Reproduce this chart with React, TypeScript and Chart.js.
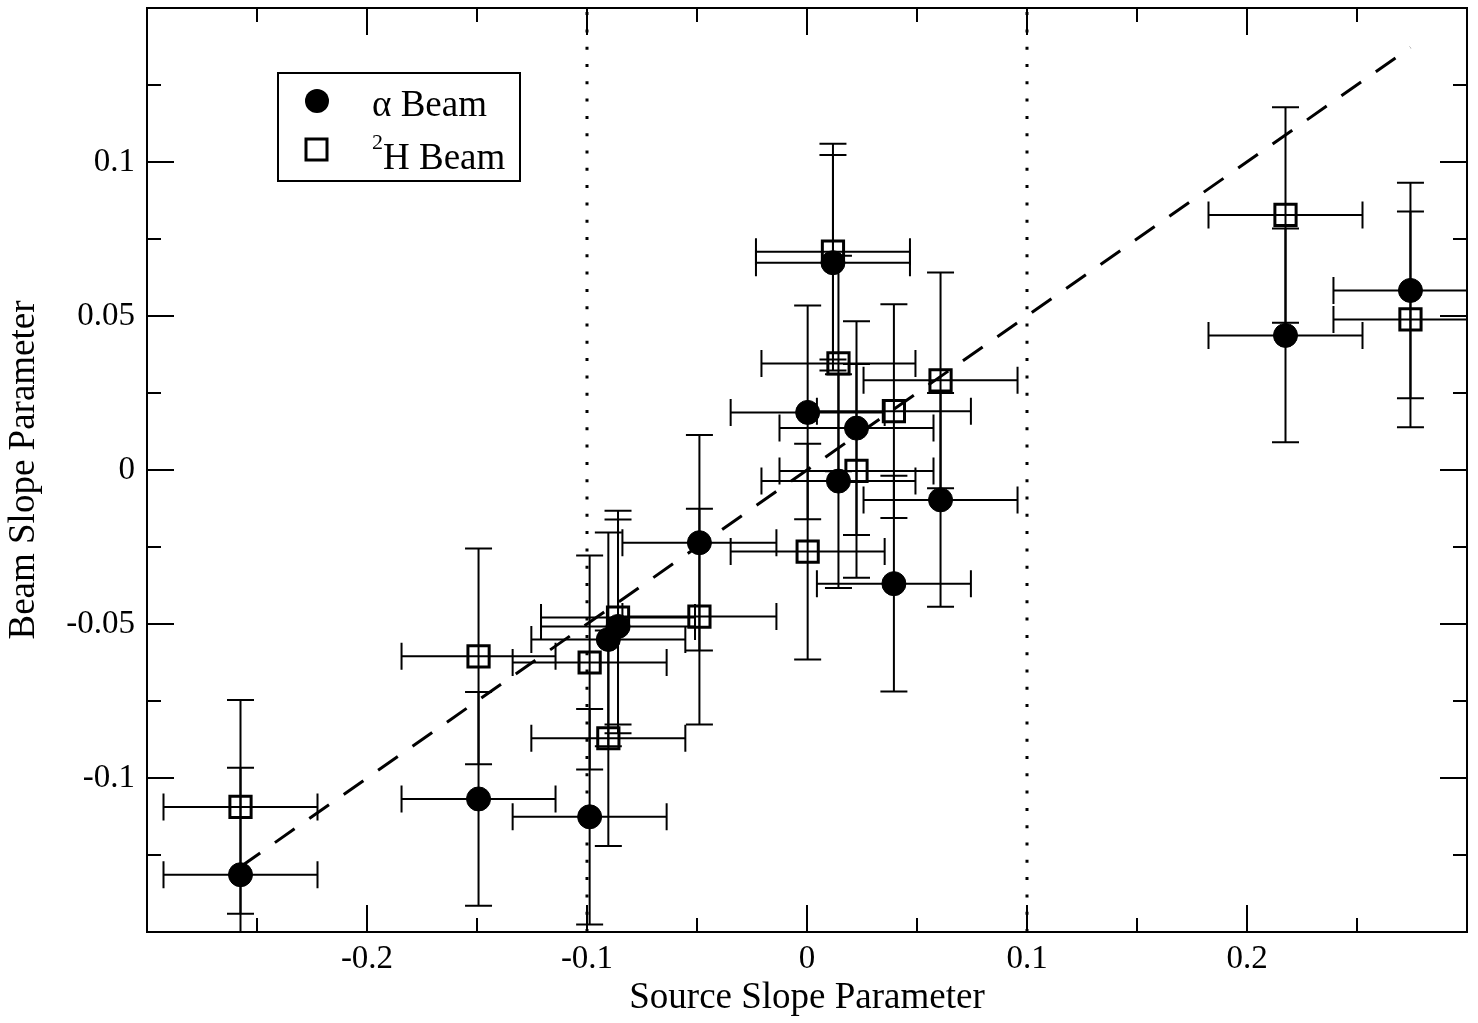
import React, { useEffect, useRef } from 'react';
import { Chart, registerables } from 'chart.js';

Chart.register(...registerables);

// ---- data ----
const sourceSlope = [-0.2575, -0.1493, -0.0988, -0.0903, -0.0859, -0.0489, 0.0003, 0.0118, 0.0143, 0.0225, 0.0395, 0.0607, 0.2175, 0.2743];
const alphaBeam = [-0.1314, -0.1068, -0.1126, -0.055, -0.0508, -0.0236, 0.0187, 0.0673, -0.0036, 0.0136, -0.0369, -0.0097, 0.0437, 0.0583];
const deuteronBeam = [-0.1094, -0.0605, -0.0625, -0.0871, -0.0479, -0.0476, -0.0265, 0.0709, 0.0346, -0.0003, 0.0191, 0.0291, 0.0828, 0.0489];
const sourceErr = [0.035, 0.035, 0.035, 0.035, 0.035, 0.035, 0.035, 0.035, 0.035, 0.035, 0.035, 0.035, 0.035, 0.035];
const alphaErr = [0.0347, 0.0347, 0.035, 0.0347, 0.0347, 0.035, 0.0347, 0.035, 0.0347, 0.0347, 0.035, 0.0347, 0.0347, 0.035];
const deuteronErr = [0.0347, 0.035, 0.0347, 0.035, 0.0347, 0.035, 0.035, 0.035, 0.035, 0.0347, 0.0347, 0.035, 0.035, 0.035];

const fitX = [-0.2575, 0.2743];
const fitY = [-0.1288, 0.1372];
const cutX = [-0.1, 0.1];
const xLimits = [-0.3, 0.3];
const yLimits = [-0.15, 0.15];

const xTickValues = [-0.2, -0.1, 0, 0.1, 0.2];
const xTickLabels = ['-0.2', '-0.1', '0', '0.1', '0.2'];
const xMinorTicks = [-0.25, -0.15, -0.05, 0.05, 0.15, 0.25];
const yTickValues = [-0.1, -0.05, 0, 0.05, 0.1];
const yTickLabels = ['-0.1', '-0.05', '0', '0.05', '0.1'];
const yMinorTicks = [-0.125, -0.075, -0.025, 0.025, 0.075, 0.125];

const legendLabels = ['\u03b1 Beam', 'H Beam'];

const FONT = '"Liberation Serif", "Times New Roman", serif';

const zeroPad = (s: any) => {
  s.paddingTop = 0;
  s.paddingBottom = 0;
  s.paddingLeft = 0;
  s.paddingRight = 0;
};

const errorBarPlugin = {
  id: 'errorBars',
  beforeDatasetsDraw(chart: any) {
    const { ctx, chartArea } = chart;
    const xs = chart.scales.x;
    const ys = chart.scales.y;
    ctx.save();
    ctx.beginPath();
    ctx.rect(chartArea.left, chartArea.top, chartArea.right - chartArea.left, chartArea.bottom - chartArea.top);
    ctx.clip();
    ctx.strokeStyle = '#000';
    ctx.lineWidth = 2;
    ctx.lineCap = 'butt';
    chart.data.datasets.forEach((ds: any) => {
      if (!ds.errX) return;
      ds.data.forEach((p: any, i: number) => {
        const px = xs.getPixelForValue(p.x);
        const py = ys.getPixelForValue(p.y);
        const x1 = xs.getPixelForValue(p.x - ds.errX[i]);
        const x2 = xs.getPixelForValue(p.x + ds.errX[i]);
        const y1 = ys.getPixelForValue(p.y + ds.errY[i]);
        const y2 = ys.getPixelForValue(p.y - ds.errY[i]);
        const cap = 13.5;
        ctx.beginPath();
        ctx.moveTo(x1, py); ctx.lineTo(x2, py);
        ctx.moveTo(x1, py - cap); ctx.lineTo(x1, py + cap);
        ctx.moveTo(x2, py - cap); ctx.lineTo(x2, py + cap);
        ctx.moveTo(px, y1); ctx.lineTo(px, y2);
        ctx.moveTo(px - cap, y1); ctx.lineTo(px + cap, y1);
        ctx.moveTo(px - cap, y2); ctx.lineTo(px + cap, y2);
        ctx.stroke();
      });
    });
    ctx.restore();
  },
};

const framePlugin = {
  id: 'frameTicks',
  afterDatasetsDraw(chart: any) {
    const { ctx, chartArea } = chart;
    const { left, right, top, bottom } = chartArea;
    const xs = chart.scales.x;
    const ys = chart.scales.y;
    ctx.save();
    ctx.strokeStyle = '#000';
    ctx.lineWidth = 2;
    ctx.strokeRect(left, top, right - left, bottom - top);
    const major = 27;
    const minor = 14;
    ctx.beginPath();
    const xt = (v: number, len: number) => {
      const p = Math.round(xs.getPixelForValue(v));
      ctx.moveTo(p, bottom); ctx.lineTo(p, bottom - len);
      ctx.moveTo(p, top); ctx.lineTo(p, top + len);
    };
    const yt = (v: number, len: number) => {
      const p = Math.round(ys.getPixelForValue(v));
      ctx.moveTo(left, p); ctx.lineTo(left + len, p);
      ctx.moveTo(right, p); ctx.lineTo(right - len, p);
    };
    xTickValues.forEach((v) => xt(v, major));
    xMinorTicks.forEach((v) => xt(v, minor));
    yTickValues.forEach((v) => yt(v, major));
    yMinorTicks.forEach((v) => yt(v, minor));
    ctx.stroke();
    ctx.restore();
  },
  afterDraw(chart: any) {
    const { ctx, chartArea } = chart;
    const L = chartArea.left;
    const T = chartArea.top;
    ctx.save();
    ctx.strokeStyle = '#000';
    ctx.fillStyle = '#000';
    ctx.lineWidth = 2;
    ctx.strokeRect(L + 131, T + 65, 242, 108);
    // circle symbol
    ctx.beginPath();
    ctx.arc(L + 170, T + 93, 12, 0, Math.PI * 2);
    ctx.fill();
    // square symbol
    ctx.lineWidth = 3;
    ctx.strokeRect(L + 159, T + 131, 21, 21);
    ctx.textBaseline = 'alphabetic';
    ctx.textAlign = 'left';
    ctx.font = `37px ${FONT}`;
    ctx.fillText(legendLabels[0], L + 225, T + 108);
    ctx.font = `22px ${FONT}`;
    ctx.fillText('2', L + 225, T + 141);
    ctx.font = `37px ${FONT}`;
    ctx.fillText(legendLabels[1], L + 236, T + 161);
    ctx.restore();
  },
};

export default function App() {
  const ref = useRef<HTMLCanvasElement | null>(null);
  useEffect(() => {
    if (!ref.current) return;
    const pts = (ys: number[]) => sourceSlope.map((x, i) => ({ x, y: ys[i] }));
    const chart = new Chart(ref.current, {
      type: 'scatter',
      data: {
        datasets: [
          {
            label: 'cut low',
            data: [{ x: cutX[0], y: yLimits[0] }, { x: cutX[0], y: yLimits[1] }],
            showLine: true,
            borderColor: '#000',
            borderWidth: 3,
            borderDash: [3, 14.3],
            pointRadius: 0,
            pointHoverRadius: 0,
          },
          {
            label: 'cut high',
            data: [{ x: cutX[1], y: yLimits[0] }, { x: cutX[1], y: yLimits[1] }],
            showLine: true,
            borderColor: '#000',
            borderWidth: 3,
            borderDash: [3, 14.3],
            pointRadius: 0,
            pointHoverRadius: 0,
          },
          {
            label: 'fit',
            data: fitX.map((x, i) => ({ x, y: fitY[i] })),
            showLine: true,
            borderColor: '#000',
            borderWidth: 3,
            borderDash: [24, 18],
            pointRadius: 0,
            pointHoverRadius: 0,
          },
          {
            label: legendLabels[0],
            data: pts(alphaBeam),
            errX: sourceErr,
            errY: alphaErr,
            pointStyle: 'circle',
            pointRadius: 12,
            pointHoverRadius: 12,
            backgroundColor: '#000',
            borderColor: '#000',
            borderWidth: 1,
          } as any,
          {
            label: '2H Beam',
            data: pts(deuteronBeam),
            errX: sourceErr,
            errY: deuteronErr,
            pointStyle: 'rect',
            pointRadius: 15,
            pointHoverRadius: 15,
            backgroundColor: 'rgba(0,0,0,0)',
            borderColor: '#000',
            borderWidth: 3,
          } as any,
        ],
      },
      options: {
        animation: false,
        responsive: false,
        devicePixelRatio: 1,
        layout: { autoPadding: false, padding: { left: 0, top: 8, right: 11, bottom: 0 } },
        plugins: { legend: { display: false }, tooltip: { enabled: false } },
        scales: {
          x: {
            type: 'linear',
            min: xLimits[0],
            max: xLimits[1],
            grid: { display: false, drawTicks: false },
            border: { display: false },
            afterBuildTicks: (s: any) => { s.ticks = xTickValues.map((v) => ({ value: v })); },
            afterFit: (s: any) => { s.height = 91; zeroPad(s); },
            ticks: {
              callback: (_v: any, i: number) => xTickLabels[i],
              padding: 8,
              color: '#000',
              maxRotation: 0,
              autoSkip: false,
              font: { family: FONT, size: 33 },
            },
            title: {
              display: true,
              text: 'Source Slope Parameter',
              color: '#000',
              font: { family: FONT, size: 37 },
              padding: { top: 0, bottom: 3 },
            },
          },
          y: {
            type: 'linear',
            min: yLimits[0],
            max: yLimits[1],
            grid: { display: false, drawTicks: false },
            border: { display: false },
            afterBuildTicks: (s: any) => { s.ticks = yTickValues.map((v) => ({ value: v })); },
            afterFit: (s: any) => { s.width = 147; zeroPad(s); },
            ticks: {
              callback: (_v: any, i: number) => yTickLabels[i],
              padding: 12,
              color: '#000',
              autoSkip: false,
              font: { family: FONT, size: 33 },
            },
            title: {
              display: true,
              text: 'Beam Slope Parameter',
              color: '#000',
              font: { family: FONT, size: 37 },
              padding: { top: 2, bottom: 0 },
            },
          },
        },
      },
      plugins: [errorBarPlugin, framePlugin],
    });
    return () => chart.destroy();
  }, []);
  return (
    <div style={{ position: 'fixed', left: 0, top: 0, width: 1478, height: 1023, background: '#fff' }}>
      <canvas ref={ref} width={1478} height={1023} style={{ display: 'block' }} />
    </div>
  );
}
